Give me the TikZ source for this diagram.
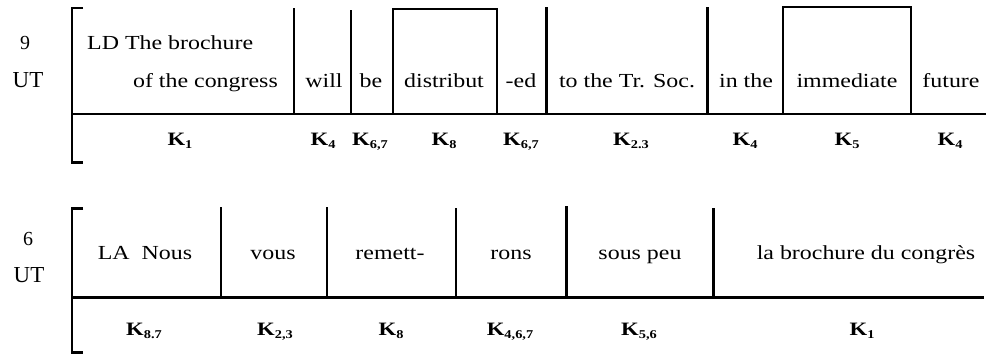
\documentclass[tikz,border=0pt]{standalone}
\usepackage{fontspec}
\setmainfont{Liberation Serif}[FakeStretch=1.2]
\newfontfamily\plainserif{Liberation Serif}
\newcommand\Ksub[1]{\textbf{K}\raisebox{-0.35ex}{\fontsize{12}{12}\selectfont\textbf{#1}}}
\tikzset{
  word/.style={anchor=base,inner sep=0pt,font=\fontsize{20}{24}\selectfont},
  klab/.style={anchor=base,inner sep=0pt,font=\fontsize{19}{21}\selectfont},
  side/.style={anchor=base,inner sep=0pt,font=\plainserif\fontsize{23}{26}\selectfont},
  digit/.style={anchor=base,inner sep=0pt,font=\plainserif\fontsize{20}{22}\selectfont},
  rule/.style={line width=3pt},
  thin/.style={line width=2.4pt}
}
\begin{document}
\begin{tikzpicture}[x=1bp,y=-1bp]
\useasboundingbox (0,0) rectangle (987,354);
% ---------- top row ----------
\node[digit] (n9) at (25,49) {9};
\node[side] (ut1) at (28,87) {UT};
\coordinate (a1) at (83,8); \coordinate (a2) at (72,8);
\coordinate (a3) at (72,162); \coordinate (a4) at (83,162);
\draw[rule] (a1) -- (a2) -- (a3) -- (a4);
\coordinate (bl1) at (72,114); \coordinate (br1) at (986,114);
\draw[rule] (bl1) -- (br1);
\foreach \x/\t [count=\i] in {294/8,351/10,546/7,707/7}{
  \coordinate (td\i) at (\x,\t); \coordinate (tb\i) at (\x,114);
  \draw[rule] (td\i) -- (tb\i);
}
\coordinate (ba1) at (393,114); \coordinate (ba2) at (393,9);
\coordinate (ba3) at (497,9); \coordinate (ba4) at (497,114);
\draw[thin] (ba1) -- (ba2) -- (ba3) -- (ba4);
\coordinate (bb1) at (783,114); \coordinate (bb2) at (783,7);
\coordinate (bb3) at (911,7); \coordinate (bb4) at (911,114);
\draw[thin] (bb1) -- (bb2) -- (bb3) -- (bb4);
\node[word,anchor=base west] (w1a) at (87,49) {LD The brochure};
\node[word,anchor=base east] (w1b) at (278,87) {of the congress};
\node[word] (w2) at (324,87) {will};
\node[word] (w3) at (371,87) {be};
\node[word] (w4) at (444,87) {distribut};
\node[word] (w5) at (521,87) {-ed};
\node[word] (w6) at (627,87) {to the Tr. Soc.};
\node[word] (w7) at (746,87) {in the};
\node[word] (w8) at (847,87) {immediate};
\node[word] (w9) at (951,87) {future};
\node[klab] (k1) at (180,145) {\Ksub{1}};
\node[klab] (k2) at (323,145) {\Ksub{4}};
\node[klab] (k3) at (370,145) {\Ksub{6,7}};
\node[klab] (k4) at (444,145) {\Ksub{8}};
\node[klab] (k5) at (521,145) {\Ksub{6,7}};
\node[klab] (k6) at (631,145) {\Ksub{2.3}};
\node[klab] (k7) at (745,145) {\Ksub{4}};
\node[klab] (k8) at (847,145) {\Ksub{5}};
\node[klab] (k9) at (950,145) {\Ksub{4}};
% ---------- bottom row ----------
\node[digit] (n6) at (28,245) {6};
\node[side] (ut2) at (29,282) {UT};
\coordinate (c1) at (83,208); \coordinate (c2) at (72,208);
\coordinate (c3) at (72,352); \coordinate (c4) at (83,352);
\draw[rule] (c1) -- (c2) -- (c3) -- (c4);
\coordinate (bl2) at (72,297); \coordinate (br2) at (984,297);
\draw[rule] (bl2) -- (br2);
\foreach \x/\t [count=\i] in {221/207,327/207,456/208,566/206,713/208}{
  \coordinate (ud\i) at (\x,\t); \coordinate (ub\i) at (\x,297);
  \draw[rule] (ud\i) -- (ub\i);
}
\node[word] (v1) at (145,259) {LA\ \ Nous};
\node[word] (v2) at (273,259) {vous};
\node[word] (v3) at (390,259) {remett-};
\node[word] (v4) at (511,259) {rons};
\node[word] (v5) at (640,259) {sous peu};
\node[word] (v6) at (866,259) {la brochure du congrès};
\node[klab] (m1) at (144,335) {\Ksub{8.7}};
\node[klab] (m2) at (275,335) {\Ksub{2,3}};
\node[klab] (m3) at (391,335) {\Ksub{8}};
\node[klab] (m4) at (510,335) {\Ksub{4,6,7}};
\node[klab] (m5) at (639,335) {\Ksub{5,6}};
\node[klab] (m6) at (862,335) {\Ksub{1}};
\end{tikzpicture}
\end{document}
